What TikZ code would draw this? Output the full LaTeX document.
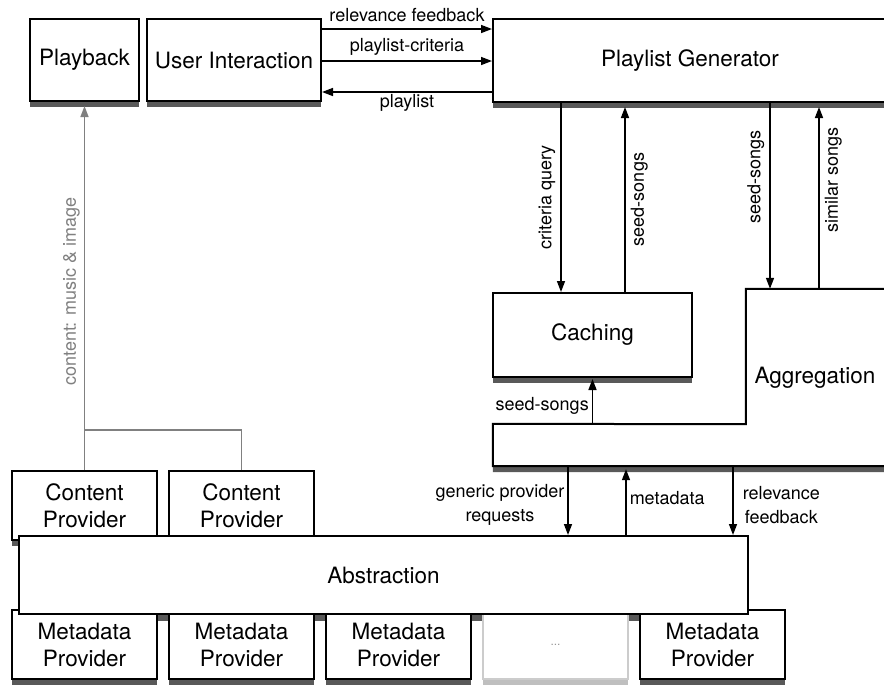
\documentclass[tikz,border=0pt]{standalone}
\usepackage{fontspec}
\setmainfont{TeX Gyre Heros}
\usetikzlibrary{arrows.meta,shadows,backgrounds}

\tikzset{
  shad/.style={drop shadow={shadow xshift=0pt,shadow yshift=-6pt,opacity=1,fill=#1}},
  shad/.default=black!65,
  boxline/.style={draw,line width=2pt,fill=white,align=center,inner sep=0pt,
    font=\fontsize{22.5}{27}\selectfont},
  box/.style={boxline,shad},
  prov/.style={box,minimum width=145pt,minimum height=69pt},
  arr/.style={line width=1.5pt,-{Triangle[length=11pt,width=8pt]}},
  lbl/.style={font=\fontsize{18}{24}\selectfont,inner sep=2pt,align=center},
  vleft/.style={lbl,rotate=90,anchor=south,inner sep=#1},
  vright/.style={lbl,rotate=90,anchor=north,inner sep=#1},
  contentline/.style={draw=black!50,line width=1.5pt},
}

\begin{document}
\begin{tikzpicture}[x=1pt,y=-1pt]
  \useasboundingbox (0,0) rectangle (884,689);

  % top row
  \node[box,minimum width=109pt,minimum height=82pt] (play) at (84.5,60) {Playback};
  \node[box,minimum width=174pt,minimum height=82pt] (user) at (234,60) {User Interaction};
  \node[box,minimum width=394pt,minimum height=83pt] (gen) at (690,60.5) {Playlist Generator};

  % middle
  \node[box,minimum width=199pt,minimum height=84pt] (cache) at (592.5,335) {Caching};
  \node[inner sep=0pt,minimum width=141pt,minimum height=135pt] (agg) at (816.5,356.5) {};
  \node[inner sep=0pt,minimum width=394pt,minimum height=42pt] (aggbar) at (690,445) {};
  \draw[line width=2pt,fill=white,shad] (agg.north west) -- (agg.north east)
    -- (aggbar.south east) -- (aggbar.south west) -- (aggbar.north west)
    -- (agg.south west) -- cycle;
  \node[font=\fontsize{22.5}{27}\selectfont] (agglbl) at (815,378) {Aggregation};

  % providers
  \foreach \i/\x in {1/84.5,2/241.5}
    \node[prov] (cp\i) at (\x,505.5) {Content\\Provider};
  \foreach \i/\x in {1/84.5,2/241.5,3/398.5,5/712.5}
    \node[prov] (mp\i) at (\x,644.5) {Metadata\\Provider};
  \node[prov,draw=black!20,shad=black!25] (mp4) at (555.5,644.5)
    {\fontsize{12}{14}\selectfont\color{black!40}...};
  \node[boxline,minimum width=729pt,minimum height=78pt] (abs) at (383.5,575) {Abstraction};
  \begin{scope}[on background layer]
    \fill[black!65] ([yshift=-6pt]abs.south west) rectangle (abs.north east);
  \end{scope}

  % user interaction <-> generator
  \draw[arr] ([yshift=31pt]user.east) -- ([yshift=31pt]user.east -| gen.west)
    node[lbl,midway,above=4pt] {relevance feedback};
  \draw[arr] ([yshift=-1pt]user.east) -- ([yshift=-1pt]user.east -| gen.west)
    node[lbl,midway,above=3pt] {playlist-criteria};
  \draw[arr] ([yshift=-32pt]user.east -| gen.west) -- ([yshift=-32pt]user.east)
    node[lbl,midway,below=0pt] {playlist};

  % generator <-> caching / aggregation
  \draw[arr] ([xshift=-31.5pt]cache.north |- gen.south) -- ([xshift=-31.5pt]cache.north)
    node[vleft=5pt,midway] {criteria query};
  \draw[arr] ([xshift=32.5pt]cache.north) -- ([xshift=32.5pt,yshift=-4pt]cache.north |- gen.south)
    node[vright=5pt,midway] {seed-songs};
  \draw[arr] ([xshift=-46.5pt]agg.north |- gen.south) -- ([xshift=-46.5pt]agg.north)
    node[vleft=5pt,pos=0.4] {seed-songs};
  \draw[arr] ([xshift=2.5pt]agg.north) -- ([xshift=2.5pt,yshift=-4pt]agg.north |- gen.south)
    node[vright=5pt,pos=0.6] {similar songs};
  \draw[arr] (cache.south |- aggbar.north) -- ([yshift=-1pt]cache.south)
    node[lbl,pos=0.4,left=1pt] {seed-songs};

  % aggregation <-> abstraction
  \draw[arr] ([xshift=184.5pt]abs.north |- aggbar.south) -- ([xshift=184.5pt]abs.north)
    node[lbl,pos=0.56,left=1pt] {generic provider\\requests};
  \draw[arr] ([xshift=242.5pt]abs.north) -- ([xshift=242.5pt,yshift=-3pt]abs.north |- aggbar.south)
    node[lbl,pos=0.56,right=1pt] {metadata};
  \draw[arr] ([xshift=349.5pt]abs.north |- aggbar.south) -- ([xshift=349.5pt]abs.north)
    node[lbl,pos=0.56,right=7pt] {relevance\\feedback};

  % content to playback
  \coordinate (cpjoin) at ([yshift=40pt]cp1.north);
  \draw[contentline] (cp2.north) |- (cpjoin);
  \draw[contentline,-{Triangle[length=11pt,width=8pt]}] (cp1.north) -- ([yshift=-4pt]play.south)
    node[vleft=4pt,pos=0.49,text=black!50] {content: music \& image};
\end{tikzpicture}
\end{document}
